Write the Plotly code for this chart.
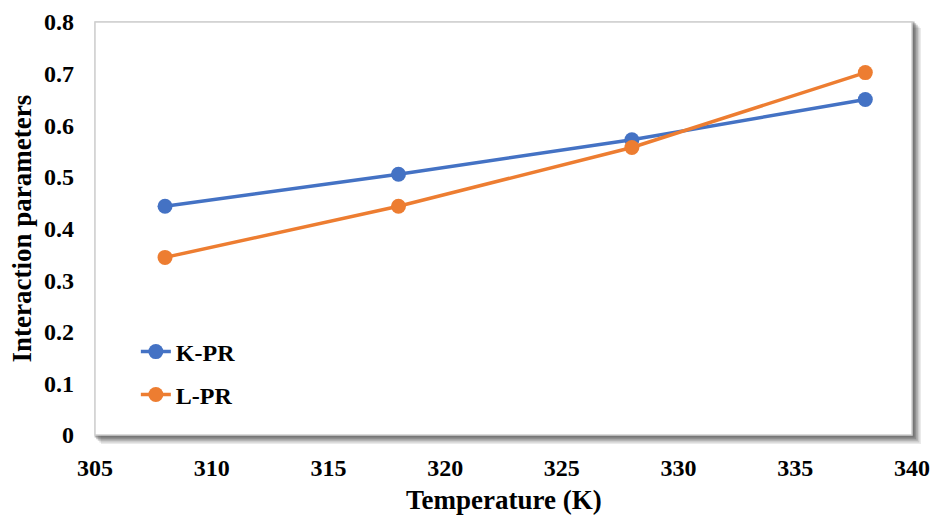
import plotly.graph_objects as go

temperature = [308, 318, 328, 338]
k_pr = [0.443, 0.505, 0.572, 0.650]
l_pr = [0.344, 0.443, 0.557, 0.702]
x_ticks = [305, 310, 315, 320, 325, 330, 335, 340]
y_ticks = [0, 0.1, 0.2, 0.3, 0.4, 0.5, 0.6, 0.7, 0.8]
y_tick_text = ["0", "0.1", "0.2", "0.3", "0.4", "0.5", "0.6", "0.7", "0.8"]
x_title = "Temperature (K)"
y_title = "Interaction parameters"

FONT = "Liberation Serif"
BLUE = "#4472C4"
ORANGE = "#ED7D31"

fig = go.Figure()
fig.add_trace(go.Scatter(x=temperature, y=k_pr, name="K-PR", mode="lines+markers",
                         line=dict(color=BLUE, width=3.5), marker=dict(size=15, color=BLUE),
                         legend="legend"))
fig.add_trace(go.Scatter(x=temperature, y=l_pr, name="L-PR", mode="lines+markers",
                         line=dict(color=ORANGE, width=3.5), marker=dict(size=15, color=ORANGE),
                         legend="legend2"))

px = 1 / 817
py = 1 / 413
shapes = []
# soft shadow
for i, op in enumerate([0.12, 0.18, 0.25, 0.32, 0.40]):
    off = 9 - i * 1.6
    shapes.append(dict(type="rect", xref="paper", yref="paper", layer="below",
                       x0=0 + (off - 3) * px, x1=1 + off * px,
                       y0=0 - off * py, y1=1 + (3 - off) * py,
                       fillcolor=f"rgba(80,80,80,{op})", line=dict(width=0)))
shapes.append(dict(type="rect", xref="paper", yref="paper", layer="below",
                   x0=0, x1=1, y0=0, y1=1, fillcolor="white",
                   line=dict(color="#cfcfcf", width=1.5)))

title_font = dict(family=FONT, size=27, color="black", weight="bold")
annotations = [
    dict(text=x_title, xref="paper", yref="paper", x=0.5, y=-0.157,
         xanchor="center", yanchor="middle", showarrow=False, font=title_font),
    dict(text=y_title, xref="paper", yref="paper", x=-0.0894, y=0.5, textangle=-90,
         xanchor="center", yanchor="middle", showarrow=False, font=title_font),
]

legend_font = dict(family=FONT, size=24, color="black", weight="bold")
fig.update_layout(
    width=930, height=517,
    margin=dict(l=95, r=18, t=22, b=82),
    paper_bgcolor="white",
    plot_bgcolor="rgba(0,0,0,0)",
    shapes=shapes,
    annotations=annotations,
    showlegend=True,
    font=dict(family=FONT, size=24, color="black"),
    xaxis=dict(range=[305, 340], tickvals=x_ticks, showgrid=False, zeroline=False,
               showline=False, ticks="", ticklabelstandoff=16, automargin=False,
               tickfont=dict(family=FONT, size=24, color="black", weight="bold")),
    yaxis=dict(range=[0, 0.8], tickvals=y_ticks, ticktext=y_tick_text, showgrid=False,
               zeroline=False, showline=False, ticks="", ticklabelstandoff=20, automargin=False,
               tickfont=dict(family=FONT, size=24, color="black", weight="bold")),
    legend=dict(x=0.05, y=0.201, xanchor="left", yanchor="middle", bgcolor="rgba(0,0,0,0)",
                font=legend_font),
    legend2=dict(x=0.05, y=0.097, xanchor="left", yanchor="middle", bgcolor="rgba(0,0,0,0)",
                 font=legend_font),
)

fig.write_html("out.html")
